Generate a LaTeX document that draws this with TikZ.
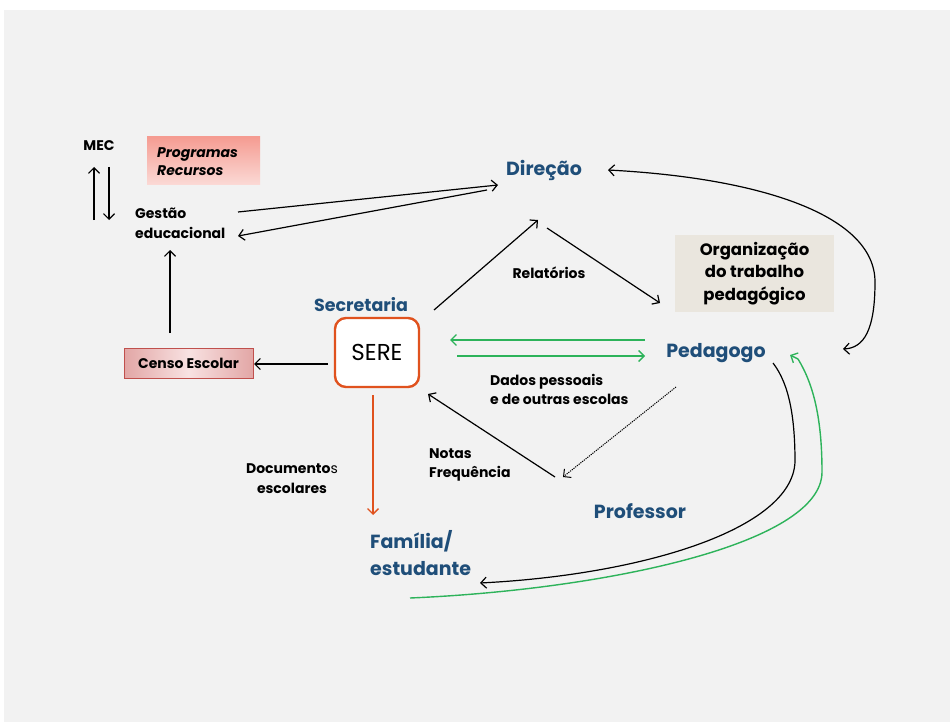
\documentclass[tikz,border=0pt]{standalone}
\usepackage{fontspec}
\setmainfont{Poppins}
\usetikzlibrary{arrows.meta}
\definecolor{bg}{HTML}{F2F2F2}
\definecolor{dblue}{HTML}{1F4E79}
\definecolor{greencol}{HTML}{2DB35A}
\definecolor{orangecol}{HTML}{E0521E}
\definecolor{progtop}{HTML}{F59C92}
\definecolor{progbot}{HTML}{FBDAD6}
\definecolor{censoside}{HTML}{E2A6A5}
\definecolor{censomid}{HTML}{F8E2E2}
\definecolor{censoborder}{HTML}{C0504D}
\definecolor{orgfill}{HTML}{EAE6DE}
\tikzset{
  lbl/.style={font=\fontsize{14}{19}\selectfont\bfseries, inner sep=0pt, text=black},
  bluelbl/.style={font=\fontsize{19}{27}\selectfont\bfseries, inner sep=0pt, text=dblue},
  arr/.style={-{Straight Barb[length=5.5pt,width=11pt]}, line width=1.2pt, black},
  arrboth/.style={{Straight Barb[length=5.5pt,width=11pt]}-{Straight Barb[length=5.5pt,width=11pt]}, line width=1.2pt, black},
  garr/.style={-{Straight Barb[length=5.5pt,width=11pt]}, line width=1.4pt, greencol},
  gcurve/.style={line width=1.4pt, greencol},
  oarr/.style={-{Straight Barb[length=5.5pt,width=11pt]}, line width=1.4pt, orangecol},
  progbox/.style={minimum width=113pt, minimum height=48pt, top color=progtop, bottom color=progbot, draw=none, inner sep=0pt},
  censobox/.style={minimum width=129pt, minimum height=30pt, left color=censoside, right color=censoside, middle color=censomid, draw=censoborder, line width=0.9pt, inner sep=0pt, font=\fontsize{14}{16}\selectfont\bfseries},
  serebox/.style={minimum width=84pt, minimum height=69pt, rounded corners=11pt, draw=orangecol, line width=2.4pt, fill=white, inner sep=0pt, font=\fontsize{23}{26}\selectfont},
  orgbox/.style={minimum width=159pt, minimum height=77pt, fill=orgfill, draw=none, inner sep=0pt, align=center, font=\fontsize{16.5}{22.5}\selectfont\bfseries}
}
\begin{document}
\begin{tikzpicture}[x=1pt,y=-1pt]
\useasboundingbox (0,0) rectangle (950,722);
\fill[bg] (4,10) rectangle (950,722);

% nodes
\node[lbl] (mec) at (99,146) {MEC};
\node[progbox] (prog) at (203.5,161) {};
\node[anchor=west, inner sep=0pt, align=left, font=\fontsize{14}{18}\selectfont\bfseries\itshape] (progtxt) at (157,162) {Programas\\Recursos};
\node[lbl, anchor=west, align=left, font=\fontsize{14}{20}\selectfont\bfseries] (gestao) at (135,223) {Gestão\\educacional};
\node[bluelbl] (direcao) at (544,170) {Direção};
\node[censobox] (censo) at (188.5,363) {Censo Escolar};
\node[serebox] (sere) at (377,352.5) {SERE};
\node[bluelbl, font=\fontsize{17.5}{27}\selectfont\bfseries] (secretaria) at (361,305) {Secretaria};
\node[lbl] (relat) at (549,273) {Relatórios};
\node[orgbox] (org) at (754.5,273.5) {Organização\\do trabalho\\pedagógico};
\node[bluelbl] (pedagogo) at (716,353) {Pedagogo};
\node[lbl, anchor=west, align=left] (dados) at (490,389) {Dados pessoais\\e de outras escolas};
\node[lbl, anchor=west, align=left] (notas) at (429,464.5) {Notas\\Frequência};
\node[bluelbl] (professor) at (640,511) {Professor};
\node[lbl, align=center, font=\fontsize{14}{20}\selectfont\bfseries] (docs) at (292,479) {Documento{\mdseries s}\\escolares};
\node[bluelbl, anchor=west, align=left] (familia) at (370,553.5) {Família/\\estudante};

% connector end points
\coordinate (mecupS) at (94,220);
\coordinate (mecupE) at (94,167);
\coordinate (mecdnS) at (109,167);
\coordinate (mecdnE) at (109,220);
\coordinate (gesR1) at (238,212);
\coordinate (dirL1) at (498,185);
\coordinate (dirL2) at (487,190);
\coordinate (gesR2) at (238,236);
\coordinate (censoT) at (170,333);
\coordinate (gesB) at (170,250);
\coordinate (sereL) at (328,364);
\coordinate (censoR) at (254,364);
\coordinate (sereTR) at (434,310);
\coordinate (dirB1) at (538,220);
\coordinate (dirB2) at (547,228);
\coordinate (pedTL) at (660,303);
\coordinate (pedG1) at (645,340);
\coordinate (sereG1) at (450,340);
\coordinate (sereG2) at (457,356);
\coordinate (pedG2) at (645,356);
\coordinate (dirR) at (608,170);
\coordinate (pedR) at (843,349);
\coordinate (pedBR) at (773,363);
\coordinate (famR) at (480,583);
\coordinate (famB) at (410,598);
\coordinate (pedGR) at (790,355);
\coordinate (pedGRb) at (798,359);
\coordinate (dotS) at (676,387);
\coordinate (dotE) at (563,477);
\coordinate (profS) at (555,477);
\coordinate (sereBR) at (428,394);
\coordinate (sereB) at (373,395);
\coordinate (famT) at (373,515);

% connectors
\draw[arr] (mecupS) -- (mecupE);
\draw[arr] (mecdnS) -- (mecdnE);
\draw[arr] (gesR1) -- (dirL1);
\draw[arr] (dirL2) -- (gesR2);
\draw[arr] (censoT) -- (gesB);
\draw[arr] (sereL) -- (censoR);
\draw[arr] (sereTR) -- (dirB1);
\draw[arr] (dirB2) -- (pedTL);
\draw[garr] (pedG1) -- (sereG1);
\draw[garr] (sereG2) -- (pedG2);
\draw[arrboth] (dirR) .. controls (760,178) and (875,215) .. (875,282) .. controls (875,330) and (864,348) .. (pedR);
\draw[arr] (pedBR) .. controls (790,385) and (795,420) .. (795,462) .. controls (792,530) and (640,575) .. (famR);
\draw[gcurve] (famB) .. controls (600,590) and (822,545) .. (822,472) .. controls (822,420) and (814,385) .. (pedGRb);
\draw[garr] (pedGRb) -- (pedGR);
\draw[arr, line width=1pt, dash pattern=on 1.2pt off 1pt] (dotS) -- (dotE);
\draw[arr] (profS) -- (sereBR);
\draw[oarr] (sereB) -- (famT);
\end{tikzpicture}
\end{document}
